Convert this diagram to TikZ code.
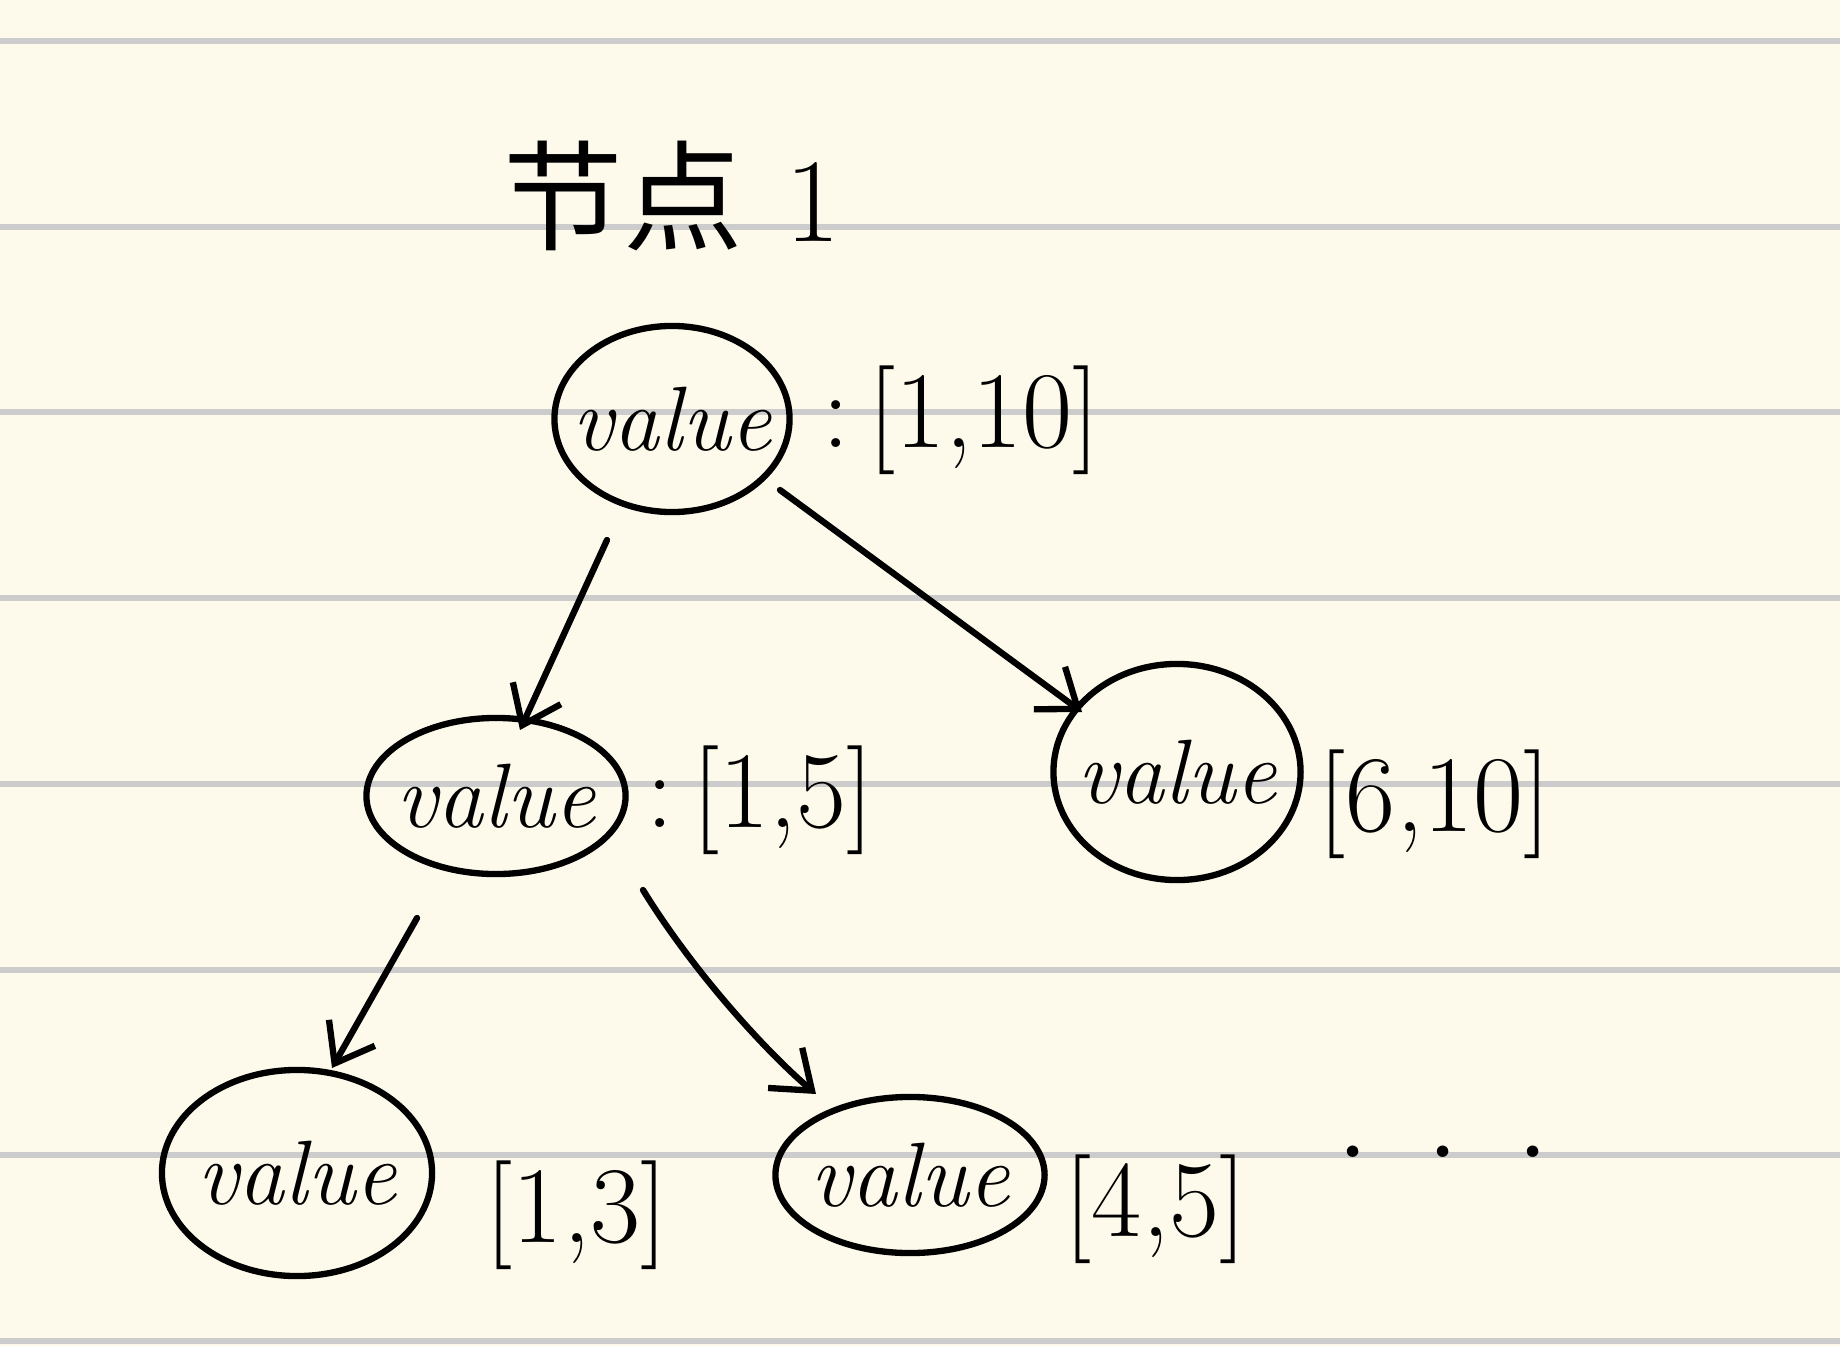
\documentclass[tikz,border=0pt]{standalone}
\usepackage{fontspec}
\newfontfamily\cjk{Noto Sans CJK SC}
\usetikzlibrary{arrows.meta,calc,shapes.geometric}
\definecolor{paper}{HTML}{FDFAEB}
\definecolor{ruleline}{HTML}{CCCCCC}
\begin{document}
\begin{tikzpicture}[x=0.01cm,y=-0.01cm,
  val/.style={ellipse,draw,line width=1.8pt,inner sep=0pt,
    label={[font=\fontsize{26}{30}\selectfont\itshape]center:value}},
  lab/.style={font=\fontsize{31}{34}\selectfont,anchor=west,inner sep=0pt},
  arr/.style={line width=1.8pt,line cap=round,-{Straight Barb[length=10pt,width=15pt,line width=1.8pt]}}]
\fill[paper] (0,0) rectangle (1840,1346);
\useasboundingbox (0,0) rectangle (1840,1346);
\foreach \y in {41,227,412,598,784,970,1155,1341} \fill[ruleline] (0,\y-3) rectangle (1840,\y+3);

\node[font=\fontsize{34}{40}\selectfont] (title) at (672,196) {{\cjk 节点}\hspace{0.42cm}1};

\node[val,minimum width=2.35cm,minimum height=1.86cm] (root) at (672,419) {};
\node[val,minimum width=2.59cm,minimum height=1.56cm] (lm) at (496,796) {};
\node[val,minimum width=2.47cm,minimum height=2.16cm] (rm) at (1177,772) {};
\node[val,minimum width=2.70cm,minimum height=2.06cm] (bl) at (297,1173) {};
\node[val,minimum width=2.69cm,minimum height=1.56cm] (bm) at (910,1175) {};

\node[lab] (l1) at (822,420) {:\,[1,10]};
\node[lab] (l2) at (646,800) {:\,[1,5]};
\node[lab] (l3) at (1318,804) {[6,10]};
\node[lab] (l4) at (485,1215) {[1,3]};
\node[lab] (l5) at (1064,1209) {[4,5]};
\node[font=\fontsize{40}{44}\selectfont] (dots) at (1443,1152) {.\hspace{0.55cm}.\hspace{0.55cm}.};

\draw[arr] ($(root)+(-65,121)$) -- ($(lm)+(24,-66)$);
\draw[arr] ($(root)+(108,71)$) -- ($(rm)+(-95,-60)$);
\draw[arr] ($(lm)+(-79,122)$) -- ($(bl)+(35,-105)$);
\draw[arr] ($(lm)+(147,94)$) .. controls ($(lm)+(200,180)$) and ($(bm)+(-140,-120)$) .. ($(bm)+(-94,-81)$);
\end{tikzpicture}
\end{document}
